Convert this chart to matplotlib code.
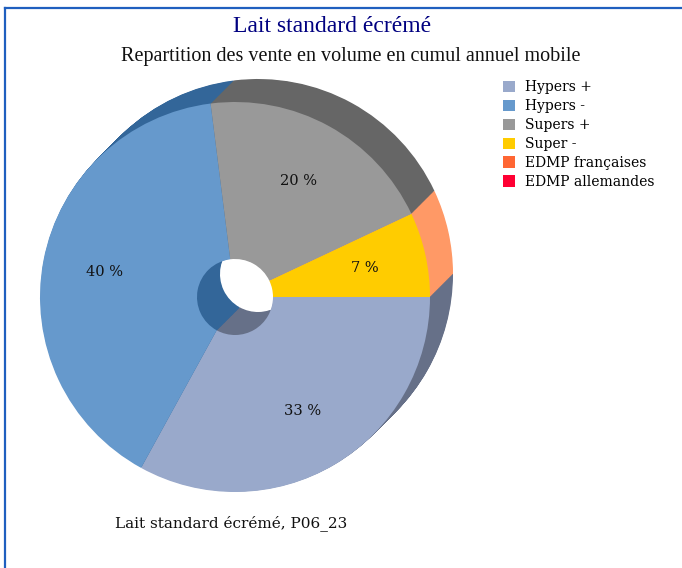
import numpy as np
import matplotlib
matplotlib.use('Agg')
import matplotlib.pyplot as plt
from matplotlib.patches import Patch
from matplotlib.lines import Line2D

# parts de marché en volume (CAM)
categories = ['Hypers +', 'Hypers -', 'Supers +', 'Super -', 'EDMP françaises', 'EDMP allemandes']
values = [33, 40, 20, 7, 0, 0]
face_colors = ['#99a9cb', '#6699cc', '#999999', '#ffcc00', '#ff6633', '#ff0033']
side_colors = ['#667088', '#336699', '#666666', '#ff9966', '#cc5533', '#cc0022']

W, H = 682, 568
fig = plt.figure(figsize=(W / 100, H / 100), dpi=100)
ax = fig.add_axes([0, 0, 1, 1])

cx, cy = 235, H - 297
R = 195
hole = 38
dx, dy = 23, 23

def fmt(pct):
    if pct < 0.5:
        return ''
    return '%d %%' % round(pct)

# épaisseur du camembert : on empile des couches décalées, de l'arrière vers l'avant
for t in np.linspace(1, 0, 40, endpoint=False):
    ax.pie(values, colors=side_colors, startangle=0, counterclock=False,
           radius=R, center=(cx + dx * t, cy + dy * t),
           wedgeprops=dict(width=R - hole, linewidth=0, antialiased=True))

wedges, texts, autotexts = ax.pie(values, colors=face_colors, startangle=0, counterclock=False,
                                  radius=R, center=(cx, cy), autopct=fmt, pctdistance=0.68,
                                  wedgeprops=dict(width=R - hole, linewidth=0),
                                  textprops=dict(family='DejaVu Serif', fontsize=10.5, color='#111111'))

ax.set_xlim(0, W)
ax.set_ylim(0, H)
ax.set_aspect('equal')
ax.axis('off')

fig.text(332 / W, 1 - 26 / H, 'Lait standard écrémé', ha='center', va='center',
         family='Liberation Serif', fontsize=17, color='#000080')
fig.text(351 / W, 1 - 57 / H, 'Repartition des vente en volume en cumul annuel mobile',
         ha='center', va='center', family='Liberation Serif', fontsize=14.5, color='#111111')
fig.text(115 / W, 1 - 523 / H, 'Lait standard écrémé, P06_23', ha='left', va='center',
         family='DejaVu Serif', fontsize=11, color='#111111')

handles = [Patch(facecolor=c, edgecolor='none') for c in face_colors]
fig.legend(handles, categories, loc='upper left', bbox_to_anchor=(490 / W, 1 - 68 / H),
           frameon=False, handlelength=0.9, handleheight=0.9, handletextpad=0.7,
           labelspacing=0.35, prop=dict(family='DejaVu Serif', size=10))

# cadre bleu
fig.add_artist(Line2D([5 / W, 1], [1 - 8 / H, 1 - 8 / H], color='#1f5fbf', lw=1.6))
fig.add_artist(Line2D([5 / W, 5 / W], [0, 1 - 8 / H], color='#1f5fbf', lw=1.6))

fig.savefig('out.png', dpi=100)
